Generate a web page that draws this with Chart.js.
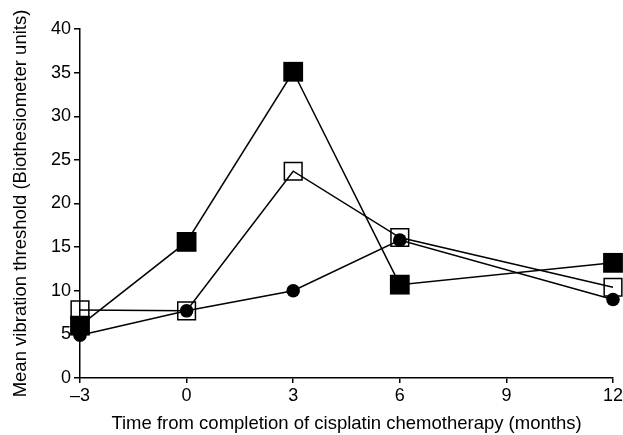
<!DOCTYPE html>
<html lang="en">
<head>
    <meta charset="UTF-8">
    <title>Mean vibration threshold</title>
    <script src="https://cdn.jsdelivr.net/npm/chart.js"></script>
    <style>
        html, body { margin: 0; padding: 0; background: #fff; overflow: hidden; }
        .wrap { width: 623px; height: 435px; overflow: hidden; }
    </style>
</head>
<body>
    <div class="wrap"><canvas id="chart" width="627" height="435"></canvas></div>
    <script>
        // data
        const months = [-3, 0, 3, 6, 12];
        const filledSquare = [6.0, 15.6, 35.1, 10.7, 13.2];
        const openSquare = [7.8, 7.7, 23.7, 16.1, 10.4];
        const filledCircle = [4.9, 7.7, 10.0, 15.8, 9.0];

        const xTicks = [-3, 0, 3, 6, 9, 12];
        const yTicks = [0, 5, 10, 15, 20, 25, 30, 35, 40];

        const toPoints = vals => months.map((m, i) => ({ x: m, y: vals[i] }));

        const font = { family: "'Liberation Sans', Arial, sans-serif", size: 18 };
        const titleFont = { family: "'Liberation Sans', Arial, sans-serif", size: 18.5 };

        const ctx = document.getElementById('chart').getContext('2d');
        new Chart(ctx, {
            type: 'line',
            data: {
                datasets: [
                    {
                        label: 'circle',
                        data: toPoints(filledCircle),
                        borderColor: '#000',
                        backgroundColor: '#000',
                        borderWidth: 1.5,
                        pointStyle: 'circle',
                        pointRadius: 6.8,
                        pointBorderWidth: 0,
                        clip: false
                    },
                    {
                        label: 'filled',
                        data: toPoints(filledSquare),
                        borderColor: '#000',
                        backgroundColor: '#000',
                        borderWidth: 1.5,
                        pointStyle: 'rect',
                        pointRadius: 14,
                        pointBorderWidth: 0,
                        clip: false
                    },
                    {
                        label: 'open',
                        data: toPoints(openSquare),
                        borderColor: '#000',
                        backgroundColor: 'rgba(0,0,0,0)',
                        pointBackgroundColor: 'rgba(0,0,0,0)',
                        borderWidth: 1.5,
                        pointStyle: 'rect',
                        pointRadius: 12.5,
                        pointBorderWidth: 1.5,
                        clip: false
                    }
                ]
            },
            options: {
                responsive: false,
                animation: false,
                layout: { padding: { left: 10, right: 0, top: 29, bottom: 0 } },
                plugins: { legend: { display: false }, tooltip: { enabled: false } },
                elements: { line: { tension: 0 } },
                scales: {
                    x: {
                        type: 'linear',
                        min: -3,
                        max: 12,
                        afterBuildTicks: s => { s.ticks = xTicks.map(v => ({ value: v })); },
                        ticks: {
                            color: '#000',
                            font: font,
                            padding: 2,
                            maxRotation: 0,
                            callback: v => String(v).replace('-', '\u2013')
                        },
                        grid: { display: true, drawOnChartArea: false, color: '#000', tickLength: 5, lineWidth: 1.5 },
                        border: { color: '#000', width: 1.5 },
                        title: {
                            display: true,
                            text: 'Time from completion of cisplatin chemotherapy (months)',
                            color: '#000',
                            font: titleFont,
                            padding: { top: 11, bottom: 0 }
                        },
                        afterFit: s => { s.height = 57; }
                    },
                    y: {
                        min: 0,
                        max: 40,
                        afterBuildTicks: s => { s.ticks = yTicks.map(v => ({ value: v })); },
                        ticks: { color: '#000', font: font, padding: 3 },
                        grid: { display: true, drawOnChartArea: false, color: '#000', tickLength: 6, lineWidth: 1.5 },
                        border: { color: '#000', width: 1.5 },
                        title: {
                            display: true,
                            text: 'Mean vibration threshold (Biothesiometer units)',
                            color: '#000',
                            font: titleFont,
                            padding: { top: 0, bottom: 4 }
                        },
                        afterFit: s => { s.width = 70; }
                    }
                }
            }
        });
    </script>
</body>
</html>
